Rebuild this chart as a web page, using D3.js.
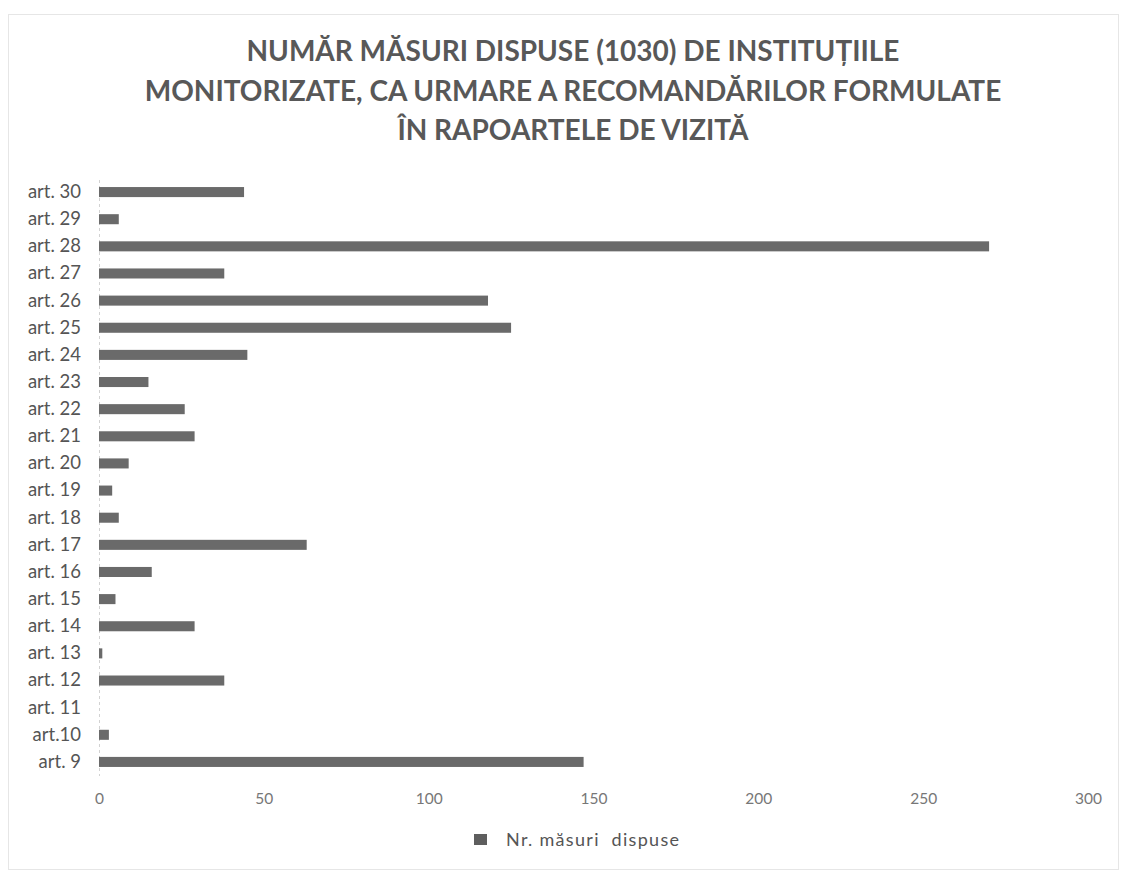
<!DOCTYPE html>
<html><head><meta charset="utf-8">
<script src="https://cdn.jsdelivr.net/npm/d3@7"></script>
<style>body{margin:0;background:#fff}svg{display:block}</style>
</head><body>
<svg id="c" width="1124" height="874"></svg>
<script>
const categories = ["art. 30","art. 29","art. 28","art. 27","art. 26","art. 25","art. 24","art. 23","art. 22","art. 21","art. 20","art. 19","art. 18","art. 17","art. 16","art. 15","art. 14","art. 13","art. 12","art. 11","art.10","art. 9"];
const values = [44,6,270,38,118,125,45,15,26,29,9,4,6,63,16,5,29,1,38,0,3,147];
const xTicks = [0,50,100,150,200,250,300];
const titleLines = ["NUMĂR MĂSURI DISPUSE (1030) DE INSTITUȚIILE","MONITORIZATE, CA URMARE A RECOMANDĂRILOR FORMULATE","ÎN RAPOARTELE DE VIZITĂ"];
const seriesName = "Nr. măsuri  dispuse";

const svg = d3.select("#c");
const font = "Lato, 'Open Sans', sans-serif";
// frame
svg.append("rect").attr("x",8.5).attr("y",14.5).attr("width",1110).attr("height",855)
  .attr("fill","none").attr("stroke","#e6e6e6");

const x = d3.scaleLinear().domain([0,300]).range([99,1088]);
const y = d3.scaleBand().domain(categories).range([178.5,775.5]).paddingInner(0.63).paddingOuter(0.315);

// title
svg.append("g").selectAll("text").data(titleLines).join("text")
  .attr("x",573).attr("y",(d,i)=>61+i*39.5).attr("text-anchor","middle")
  .attr("font-family",font).attr("font-weight","bold").attr("font-size",28)
  .attr("fill","#585858").text(d=>d);

// baseline (dashed)
svg.append("line").attr("x1",x(0)+0.5).attr("x2",x(0)+0.5).attr("y1",180).attr("y2",776)
  .attr("stroke","#d2d2d2").attr("stroke-dasharray","3,3");

// bars
svg.append("g").selectAll("rect").data(values).join("rect")
  .attr("x",x(0)).attr("y",(d,i)=>y(categories[i]))
  .attr("width",d=>x(d)-x(0)).attr("height",y.bandwidth())
  .attr("fill","#6a6a6a");

// y axis
const ya = svg.append("g").attr("transform",`translate(${x(0)-18},0)`)
  .call(d3.axisLeft(y).tickSize(0).tickPadding(0));
ya.select(".domain").remove();
ya.selectAll("text").attr("font-family",font).attr("font-size",18.5).attr("fill","#555");

// x axis
const xa = svg.append("g").attr("transform","translate(0,789)")
  .call(d3.axisBottom(x).tickValues(xTicks).tickSize(0).tickPadding(4));
xa.select(".domain").remove();
xa.selectAll("text").attr("font-family",font).attr("font-size",15.5).attr("fill","#777");

// legend
svg.append("rect").attr("x",474).attr("y",834).attr("width",13).attr("height",11).attr("fill","#5e5e5e");
svg.append("text").attr("x",506).attr("y",846).attr("font-family",font).attr("font-size",18)
  .attr("letter-spacing",1.3).style("white-space","pre")
  .attr("fill","#555").text(seriesName);
</script>
</body></html>
